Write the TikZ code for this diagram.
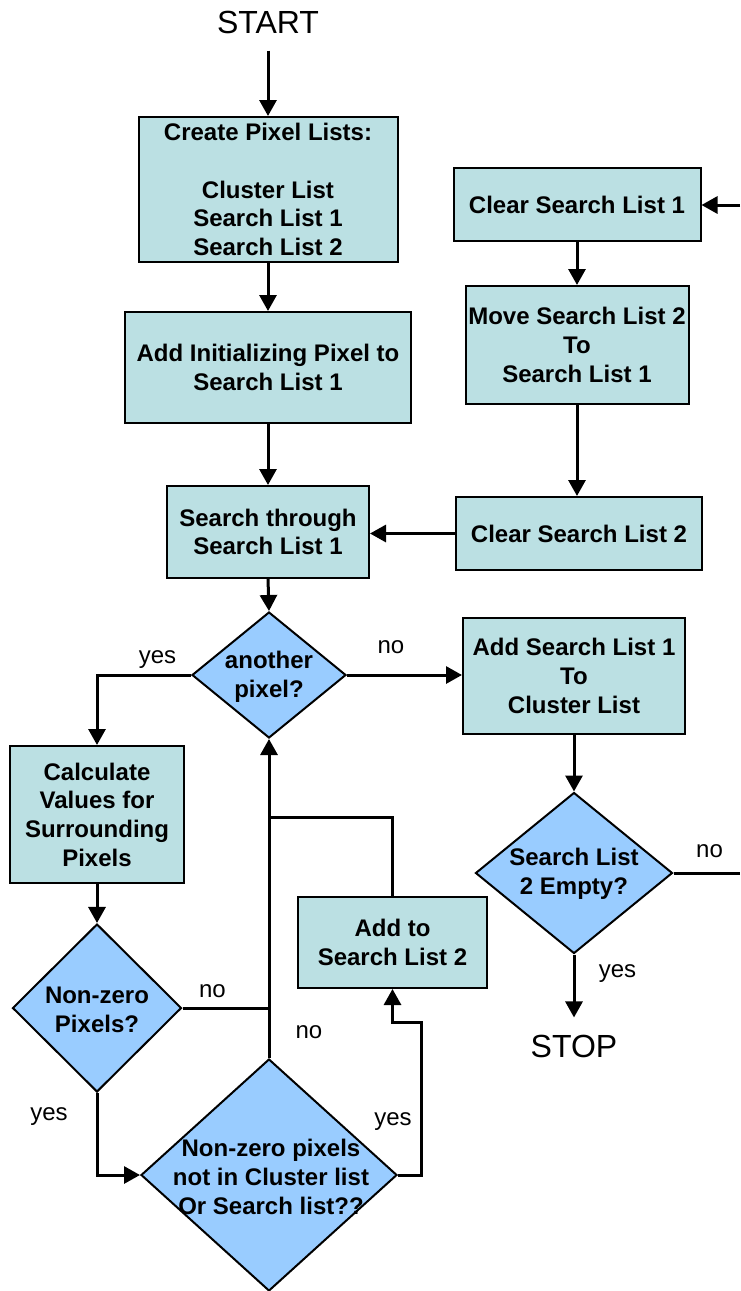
\documentclass[tikz,border=0pt]{standalone}
\usepackage{fontspec}
\setmainfont{Liberation Sans}
\usetikzlibrary{arrows.meta,shapes.geometric}
\definecolor{boxfill}{HTML}{BBE0E3}
\definecolor{decfill}{HTML}{99CCFF}
\tikzset{
	procbox/.style={draw, line width=2pt, fill=boxfill, align=center, inner sep=0pt, font=\fontsize{24}{28.7}\selectfont\bfseries},
	decision/.style={diamond, draw, line width=2pt, fill=decfill, inner sep=0pt},
	dectext/.style={align=center, inner sep=0pt, font=\fontsize{24}{28.7}\selectfont\bfseries},
	flow/.style={line width=3pt, -{Triangle[length=16pt,width=17pt]}},
	plain/.style={line width=3pt},
	answer/.style={anchor=base, inner sep=0pt, font=\fontsize{24}{24}\selectfont},
	term/.style={anchor=base, inner xsep=0pt, inner ysep=17pt, font=\fontsize{32}{32}\selectfont}
}

\begin{document}
\begin{tikzpicture}[x=1pt, y=-1pt]
		%%%%% START %%%%%
		\useasboundingbox (0,0) rectangle (740,1291);
		
		\node[term] (start) at (268,33) {START};
		\node[procbox, minimum width=259pt, minimum height=145pt] (lists) at (268,189.5) {Create Pixel Lists:\\[28.7pt]Cluster List\\Search List 1\\Search List 2};
		\node[procbox, minimum width=286pt, minimum height=111pt] (seed) at (268,367.5) {Add Initializing Pixel to\\Search List 1};
		\node[procbox, minimum width=202pt, minimum height=92pt] (scan) at (268,532) {Search through\\Search List 1};
		
		\node[decision, minimum width=154pt, minimum height=126pt] (another) at (269,675) {};
		\node[dectext] (anothertext) at (269,676.5) {another\\pixel?};
		
		\node[procbox, minimum width=174pt, minimum height=137pt] (surround) at (97,814.5) {Calculate\\Values for\\Surrounding\\Pixels};
		\node[decision, minimum width=169pt, minimum height=168pt] (nonzero) at (97,1008) {};
		\node[dectext] (nonzerotext) at (97,1009.5) {Non-zero\\Pixels?};
		\node[decision, minimum width=256pt, minimum height=232pt] (fresh) at (269,1175) {};
		\node[dectext] (freshtext) at (271,1177) {Non-zero pixels\\not in Cluster list\\Or Search list??};
		\node[procbox, minimum width=189pt, minimum height=91pt] (addtwo) at (392.5,942.5) {Add to\\Search List 2};
		
		\node[procbox, minimum width=222pt, minimum height=116pt] (merge) at (574,676) {Add Search List 1\\To\\Cluster List};
		\node[decision, minimum width=197pt, minimum height=161pt] (empty) at (574,873) {};
		\node[dectext] (emptytext) at (574,874) {Search List\\2 Empty?};
		\node[term] (stop) at (574,1057) {STOP};
		
		\node[procbox, minimum width=247pt, minimum height=73pt] (clearone) at (577,204.5) {Clear Search List 1};
		\node[procbox, minimum width=223pt, minimum height=118pt] (move) at (577,345) {Move Search List 2\\To\\Search List 1};
		\node[procbox, minimum width=246pt, minimum height=73pt] (cleartwo) at (579,533.5) {Clear Search List 2};
		
		\coordinate (backin) at (740,205);
		\coordinate (backout) at (740,873);
		\coordinate (joint) at (269,817);
		\coordinate (yesbend) at (421,1022);
		
		\draw[flow] (start) -- (lists);
		\draw[flow] (lists) -- (seed);
		\draw[flow] (seed) -- (scan);
		\draw[flow] (scan.south) -- (another.north);
		\draw[flow] (another.east) -- (another.east -| merge.west);
		\draw[flow] (another.west) -| (surround.north);
		\draw[flow] (surround) -- (nonzero);
		\draw[plain] (nonzero.east) -- (nonzero.east -| joint);
		\draw[flow] (nonzero.south) |- (fresh.west);
		\draw[flow] (fresh.north) -- (another.south);
		\draw[flow] (fresh.east) -| (yesbend) -| (addtwo.south);
		\draw[plain] (addtwo.north) |- (joint);
		\draw[flow] (merge) -- (empty);
		\draw[plain] (empty.east) -- (backout);
		\draw[flow] (empty.south) -- (stop.north);
		\draw[flow] (backin) -- (clearone.east |- backin);
		\draw[flow] (clearone) -- (move);
		\draw[flow] (move.south) -- (move.south |- cleartwo.north);
		\draw[flow] (cleartwo.west) -- (cleartwo.west -| scan.east);
		
		\node[answer] (yesmore) at (157.5,663) {yes};
		\node[answer] (nomore) at (391,653) {no};
		\node[answer] (nononzero) at (212.5,997) {no};
		\node[answer] (yesnonzero) at (49,1120) {yes};
		\node[answer] (nofresh) at (309,1038) {no};
		\node[answer] (yesfresh) at (393,1125) {yes};
		\node[answer] (noempty) at (709.5,857) {no};
		\node[answer] (yesempty) at (617.5,977) {yes};
		
		%%%%% END %%%%%
\end{tikzpicture}
\end{document}
